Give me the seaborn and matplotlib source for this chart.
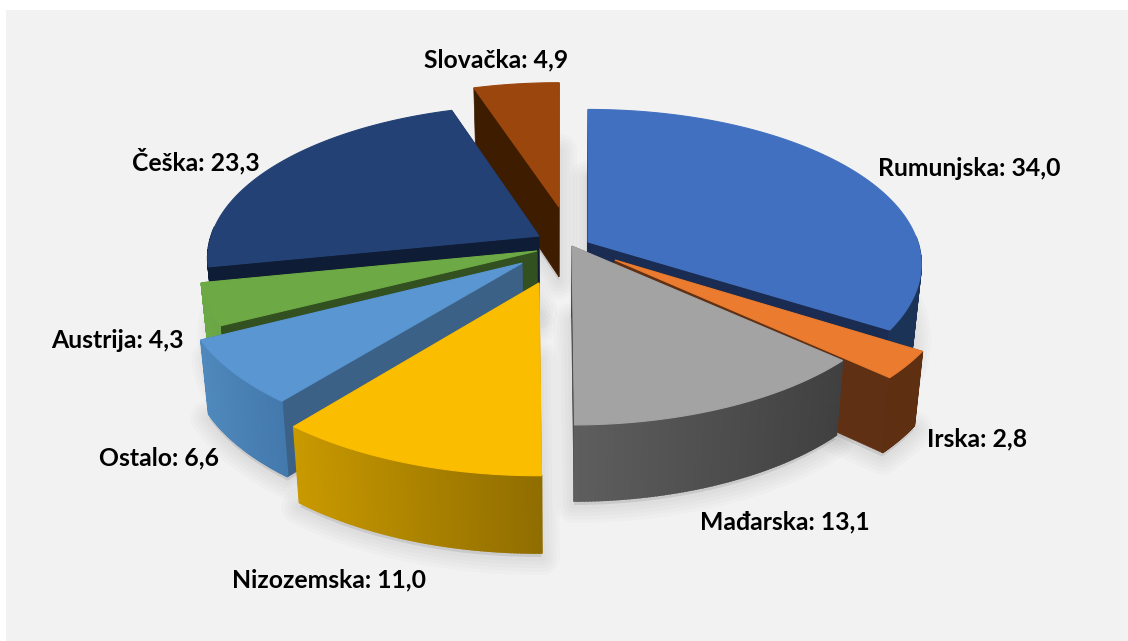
import numpy as np
import matplotlib
matplotlib.use("Agg")
import matplotlib.pyplot as plt
from matplotlib.colors import to_rgb
from matplotlib.patches import Rectangle
import seaborn as sns

# ---- data ----
categories = ["Rumunjska", "Irska", "Mađarska", "Nizozemska", "Ostalo", "Austrija", "Češka", "Slovačka"]
values = [34.0, 2.8, 13.1, 11.0, 6.6, 4.3, 23.3, 4.9]

# ---- styles ----
top_colors = ["#4270C0", "#EA7B2F", "#A3A3A3", "#FBBD00", "#5996D2", "#6DAA45", "#234175", "#9B460D"]
radial_colors = ["#1B2C52", "#5F3013", "#404040", "#8F6D00", "#3B6187", "#335020", "#0E1C36", "#3E1C00"]
wall_left = ["#1C3358", "#5F2F12", "#5E5E5E", "#C99900", "#4F88BC", "#6BA946", "#0E1C36", "#3E1C00"]
wall_right = ["#1C3358", "#5F2F12", "#404040", "#8F6D00", "#4379AC", "#6BA546", "#0E1C36", "#3E1C00"]
# explosion of each slice: sideways shift (px) and shift in the pie plane (radius units)
explode_x = [32, 59, 16, -17, -34, -19, -17, 3]
explode_y = [-0.007, 0.11, 0.02, 0.253, 0.13, 0.052, -0.046, -0.245]
paint_order = ["Slovačka", "Češka", "Rumunjska", "Austrija", "Ostalo", "Irska", "Mađarska", "Nizozemska"]
label_anchor = {
    "Rumunjska": (969, 168), "Irska": (977, 439), "Mađarska": (785, 522),
    "Nizozemska": (329, 580), "Ostalo": (159, 458), "Austrija": (117, 341),
    "Češka": (196, 161), "Slovačka": (496, 60),
}
CX, CY = 556, 243       # pie centre
RX, A, K = 330, 152, 0.145  # horizontal radius, vertical scale, perspective

sns.set_theme(style="white")
plt.rcParams["font.family"] = ["Lato", "DejaVu Sans"]
tops = sns.color_palette(top_colors)

fig = plt.figure(figsize=(11.28, 6.41), dpi=100, facecolor="white")
ax = fig.add_axes([0, 0, 1, 1])
ax.set_xlim(0, 1128)
ax.set_ylim(641, 0)
ax.axis("off")
ax.add_patch(Rectangle((6, 10), 1122, 631, facecolor="#F2F2F2", edgecolor="none", zorder=0))


def project(theta_deg, radius, ox, oy):
    t = np.radians(np.asarray(theta_deg, dtype=float))
    px = radius * np.sin(t)
    py = oy - radius * np.cos(t)
    s = 1 / (1 - K * py)
    return ox + CX + RX * px * s, CY + A * py * s, py


def lower(x, y, py):
    return CX + (x - CX) * 0.978, y + 71 + 5 * py


share = np.array(values) / np.sum(values) * 360
ends = np.cumsum(share)
starts = ends - share
slices = {c: i for i, c in enumerate(categories)}

# soft shadows from the floor outlines
for c in paint_order:
    i = slices[c]
    th = np.linspace(starts[i], ends[i], 60)
    x, y, py = project(th, 1, explode_x[i], explode_y[i])
    ax0, ay0, ap = project(0, 0, explode_x[i], explode_y[i])
    bx, by = lower(np.r_[ax0, x], np.r_[ay0, y], np.r_[ap, py])
    for lw in (26, 21, 16, 11, 6):
        ax.fill(bx, by + 4, facecolor=(0, 0, 0, 0.016), edgecolor=(0, 0, 0, 0.016),
                lw=lw, joinstyle="round", zorder=1)

z = 2
for c in paint_order:
    i = slices[c]
    th = np.linspace(starts[i], ends[i], 90)
    x, y, py = project(th, 1, explode_x[i], explode_y[i])
    a0x, a0y, a0p = project(0, 0, explode_x[i], explode_y[i])
    a0x, a0y, a0p = float(a0x), float(a0y), float(a0p)
    bx, by = lower(x, y, py)
    abx, aby = lower(a0x, a0y, a0p)

    # radial walls
    for k in (0, -1):
        ax.fill([a0x, x[k], bx[k], abx], [a0y, y[k], by[k], aby],
                color=radial_colors[i], lw=0.5, zorder=z)
        z += 1
    # outer wall with a left-to-right gradient (only the part facing the viewer)
    cl, cr = np.array(to_rgb(wall_left[i])), np.array(to_rgb(wall_right[i]))
    for n in range(len(th) - 1):
        if np.cos(np.radians(th[n])) > 0.05:
            continue
        f = ((x[n] + x[n + 1]) / 2 - x.min()) / max(x.max() - x.min(), 1)
        col = cl + (cr - cl) * f
        ax.fill([x[n], x[n + 1], bx[n + 1], bx[n]], [y[n], y[n + 1], by[n + 1], by[n]],
                color=col, lw=1.2, zorder=z)
    z += 1
    # top face
    ax.fill(np.r_[a0x, x], np.r_[a0y, y], color=tops[i], lw=0.8, zorder=z)
    z += 1

for c, v in zip(categories, values):
    lx, ly = label_anchor[c]
    ax.text(lx, ly, f"{c}: {v:.1f}".replace(".", ","), ha="center", va="center",
            fontsize=17.8, fontweight="bold", color="black", zorder=z)

fig.savefig("out.png", dpi=100)
